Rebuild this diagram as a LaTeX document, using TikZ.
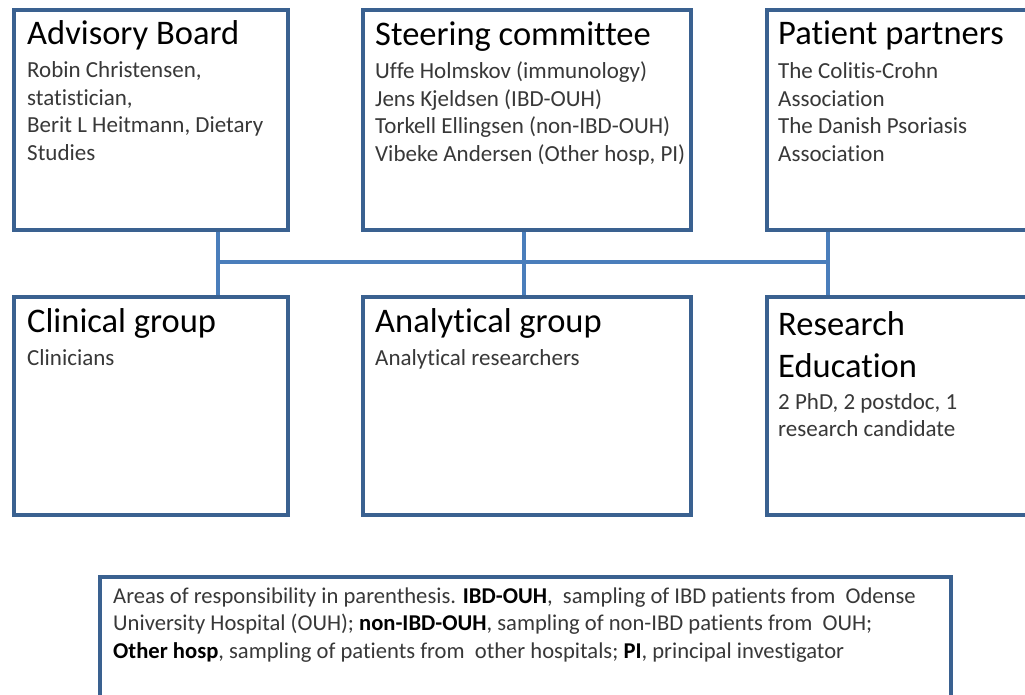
\documentclass[tikz,border=0pt]{standalone}
\usepackage{fontspec}
\setmainfont{Carlito}[Ligatures=NoCommon]
\definecolor{boxblue}{HTML}{3A6190}
\definecolor{linkblue}{HTML}{4A7EBB}
\definecolor{bodygray}{HTML}{383838}
\begin{document}
\begin{tikzpicture}[x=1pt,y=-1pt,
  box/.style={draw=boxblue, line width=3.6pt, fill=white, rectangle, anchor=north west, inner sep=0pt},
  title/.style={anchor=base west, inner sep=0pt, font=\fontsize{34.5}{42}\selectfont, text=black},
  body/.style={anchor=base west, inner sep=0pt, font=\fontsize{23}{27.4}\selectfont, text=bodygray},
  note/.style={anchor=base west, inner sep=0pt, font=\fontsize{22.6}{27.5}\selectfont, text=bodygray},
  link/.style={draw=linkblue, line width=3.2pt}]
\useasboundingbox (0,0) rectangle (1025,695);
% top row
\node[box, minimum width=274pt, minimum height=220pt] (adv) at (12,8) {};
\node[box, minimum width=328pt, minimum height=220pt] (steer) at (361,8) {};
\node[box, minimum width=290pt, minimum height=220pt] (pat) at (765,8) {};
% bottom row
\node[box, minimum width=274pt, minimum height=218pt] (clin) at (12,295) {};
\node[box, minimum width=328pt, minimum height=218pt] (anal) at (361,295) {};
\node[box, minimum width=290pt, minimum height=218pt] (res) at (765,295) {};
% note box
\node[box, minimum width=851pt, minimum height=150pt] (notebox) at (98,575) {};
% connectors
\coordinate (j1) at (218,262);
\coordinate (j2) at (524,262);
\coordinate (j3) at (828,262);
\draw[link] (j1) -- (j3);
\draw[link] (adv.south -| j1) -- (clin.north -| j1);
\draw[link] (steer.south -| j2) -- (anal.north -| j2);
\draw[link] (pat.south -| j3) -- (res.north -| j3);
% texts
\node[title] (advt) at (27,45) {Advisory Board};
\node[body] (advb) at (27,78) {\begin{tabular}[t]{@{}l@{}}Robin Christensen,\\ statistician,\\ Berit L Heitmann, Dietary\\ Studies\end{tabular}};
\node[title] (steert) at (375,46) {Steering committee};
\node[body] (steerb) at (375,79) {\begin{tabular}[t]{@{}l@{}}Uffe Holmskov (immunology)\\ Jens Kjeldsen (IBD-OUH)\\ Torkell Ellingsen (non-IBD-OUH)\\ Vibeke Andersen (Other hosp, PI)\end{tabular}};
\node[title] (patt) at (778,45) {Patient partners};
\node[body] (patb) at (778,79) {\begin{tabular}[t]{@{}l@{}}The Colitis-Crohn\\ Association\\ The Danish Psoriasis\\ Association\end{tabular}};
\node[title] (clint) at (27,332) {Clinical group};
\node[body] (clinb) at (27,365) {Clinicians};
\node[title] (analt) at (375,332) {Analytical group};
\node[body] (analb) at (375,365) {Analytical researchers};
\node[title] (rest) at (778,335) {\begin{tabular}[t]{@{}l@{}}Research\\ Education\end{tabular}};
\node[body] (resb) at (778,409) {\begin{tabular}[t]{@{}l@{}}2 PhD, 2 postdoc, 1\\ research candidate\end{tabular}};
\node[note] (notet) at (113,603) {\begin{tabular}[t]{@{}l@{}}Areas of responsibility in parenthesis. \textcolor{black}{\textbf{IBD-OUH}},\ \ sampling of IBD patients from\ \ Odense\\ University Hospital (OUH); \textcolor{black}{\textbf{non-IBD-OUH}}, sampling of non-IBD patients from\ \ OUH;\\ \textcolor{black}{\textbf{Other hosp}}, sampling of patients from\ \ other hospitals; \textcolor{black}{\textbf{PI}}, principal investigator\end{tabular}};
\end{tikzpicture}
\end{document}
